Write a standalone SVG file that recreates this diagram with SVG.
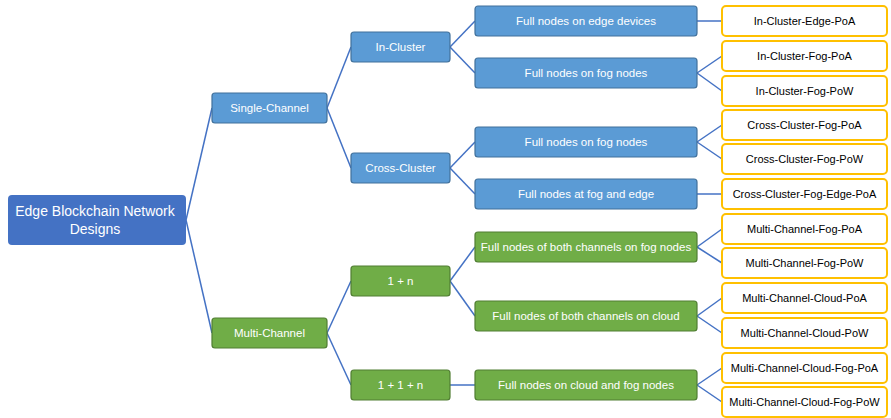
<svg xmlns="http://www.w3.org/2000/svg" width="891" height="418" viewBox="0 0 891 418">
<style>
.root{fill:#4472C4;}
.blue{fill:#5B9BD5;stroke:#41719C;stroke-width:1.2;}
.green{fill:#70AD47;stroke:#507E32;stroke-width:1.2;}
.leaf{fill:#FFFFFF;stroke:#FFC000;stroke-width:2;}
.t{font-family:"Liberation Sans",Arial,sans-serif;font-size:11.5px;text-anchor:middle;dominant-baseline:central;}
.w{fill:#FFFFFF;}
.k{fill:#000000;}
.lt{font-size:11px;}
.rt{font-size:14px;}
#connectors line{stroke:#4472C4;stroke-width:1.5;fill:none;}
</style>
<rect width="891" height="418" fill="#FFFFFF"/>
<g id="connectors">
<line x1="186" y1="220" x2="212" y2="108"/>
<line x1="186" y1="220" x2="212" y2="333"/>
<line x1="327" y1="108" x2="351" y2="47"/>
<line x1="327" y1="108" x2="351" y2="168"/>
<line x1="327" y1="333" x2="351" y2="281"/>
<line x1="327" y1="333" x2="351" y2="385"/>
<line x1="450" y1="47" x2="475" y2="21"/>
<line x1="450" y1="47" x2="475" y2="73"/>
<line x1="450" y1="168" x2="475" y2="142"/>
<line x1="450" y1="168" x2="475" y2="194"/>
<line x1="450" y1="281" x2="475" y2="247"/>
<line x1="450" y1="281" x2="475" y2="316"/>
<line x1="450" y1="385" x2="475" y2="385"/>
<line x1="697" y1="21" x2="722" y2="21"/>
<line x1="697" y1="73" x2="722" y2="56"/>
<line x1="697" y1="73" x2="722" y2="91"/>
<line x1="697" y1="142" x2="722" y2="125"/>
<line x1="697" y1="142" x2="722" y2="159"/>
<line x1="697" y1="194" x2="722" y2="194"/>
<line x1="697" y1="247" x2="722" y2="229"/>
<line x1="697" y1="247" x2="722" y2="263"/>
<line x1="697" y1="316" x2="722" y2="298"/>
<line x1="697" y1="316" x2="722" y2="333"/>
<line x1="697" y1="385" x2="722" y2="368"/>
<line x1="697" y1="385" x2="722" y2="402"/>
</g>
<g id="root"><rect class="root" x="8" y="195" width="178" height="50" rx="4"/><text class="t w rt" x="95" y="211">Edge Blockchain Network</text><text class="t w rt" x="95" y="229">Designs</text></g>
<g id="single-channel"><rect class="blue" x="212" y="93" width="115" height="30" rx="3"/><text class="t w" x="269.5" y="108">Single-Channel</text></g>
<g id="multi-channel"><rect class="green" x="212" y="318" width="115" height="30" rx="3"/><text class="t w" x="269.5" y="333">Multi-Channel</text></g>
<g id="in-cluster"><rect class="blue" x="351" y="32" width="99" height="30" rx="3"/><text class="t w" x="400.5" y="47">In-Cluster</text></g>
<g id="cross-cluster"><rect class="blue" x="351" y="153" width="99" height="30" rx="3"/><text class="t w" x="400.5" y="168">Cross-Cluster</text></g>
<g id="one-n"><rect class="green" x="351" y="266" width="99" height="30" rx="3"/><text class="t w" x="400.5" y="281">1 + n</text></g>
<g id="one-one-n"><rect class="green" x="351" y="370" width="99" height="30" rx="3"/><text class="t w" x="400.5" y="385">1 + 1 + n</text></g>
<g id="ic-edge"><rect class="blue" x="475" y="6" width="222" height="30" rx="3"/><text class="t w" x="586" y="21">Full nodes on edge devices</text></g>
<g id="ic-fog"><rect class="blue" x="475" y="58" width="222" height="30" rx="3"/><text class="t w" x="586" y="73">Full nodes on fog nodes</text></g>
<g id="cc-fog"><rect class="blue" x="475" y="127" width="222" height="30" rx="3"/><text class="t w" x="586" y="142">Full nodes on fog nodes</text></g>
<g id="cc-fog-edge"><rect class="blue" x="475" y="179" width="222" height="30" rx="3"/><text class="t w" x="586" y="194">Full nodes at fog and edge</text></g>
<g id="mc-fog"><rect class="green" x="475" y="232" width="222" height="30" rx="3"/><text class="t w" x="586" y="247">Full nodes of both channels on fog nodes</text></g>
<g id="mc-cloud"><rect class="green" x="475" y="301" width="222" height="30" rx="3"/><text class="t w" x="586" y="316">Full nodes of both channels on cloud</text></g>
<g id="mc-cloud-fog"><rect class="green" x="475" y="370" width="222" height="30" rx="3"/><text class="t w" x="586" y="385">Full nodes on cloud and fog nodes</text></g>
<g id="leaf1"><rect class="leaf" x="722" y="6" width="165" height="30" rx="4"/><text class="t k lt" x="804.5" y="21">In-Cluster-Edge-PoA</text></g>
<g id="leaf2"><rect class="leaf" x="722" y="41" width="165" height="30" rx="4"/><text class="t k lt" x="804.5" y="56">In-Cluster-Fog-PoA</text></g>
<g id="leaf3"><rect class="leaf" x="722" y="76" width="165" height="30" rx="4"/><text class="t k lt" x="804.5" y="91">In-Cluster-Fog-PoW</text></g>
<g id="leaf4"><rect class="leaf" x="722" y="110" width="165" height="30" rx="4"/><text class="t k lt" x="804.5" y="125">Cross-Cluster-Fog-PoA</text></g>
<g id="leaf5"><rect class="leaf" x="722" y="144" width="165" height="30" rx="4"/><text class="t k lt" x="804.5" y="159">Cross-Cluster-Fog-PoW</text></g>
<g id="leaf6"><rect class="leaf" x="722" y="179" width="165" height="30" rx="4"/><text class="t k lt" x="804.5" y="194">Cross-Cluster-Fog-Edge-PoA</text></g>
<g id="leaf7"><rect class="leaf" x="722" y="214" width="165" height="30" rx="4"/><text class="t k lt" x="804.5" y="229">Multi-Channel-Fog-PoA</text></g>
<g id="leaf8"><rect class="leaf" x="722" y="248" width="165" height="30" rx="4"/><text class="t k lt" x="804.5" y="263">Multi-Channel-Fog-PoW</text></g>
<g id="leaf9"><rect class="leaf" x="722" y="283" width="165" height="30" rx="4"/><text class="t k lt" x="804.5" y="298">Multi-Channel-Cloud-PoA</text></g>
<g id="leaf10"><rect class="leaf" x="722" y="318" width="165" height="30" rx="4"/><text class="t k lt" x="804.5" y="333">Multi-Channel-Cloud-PoW</text></g>
<g id="leaf11"><rect class="leaf" x="722" y="353" width="165" height="30" rx="4"/><text class="t k lt" x="804.5" y="368">Multi-Channel-Cloud-Fog-PoA</text></g>
<g id="leaf12"><rect class="leaf" x="722" y="387" width="165" height="30" rx="4"/><text class="t k lt" x="804.5" y="402">Multi-Channel-Cloud-Fog-PoW</text></g>
</svg>
